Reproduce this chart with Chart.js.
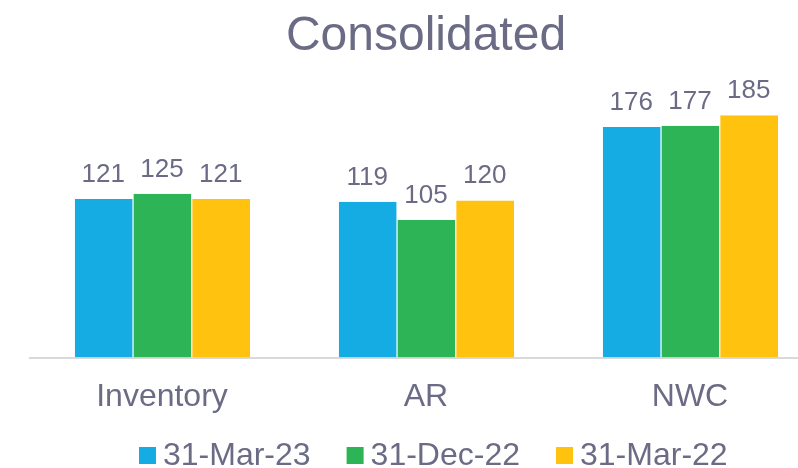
<!DOCTYPE html>
<html lang="en">
<head>
    <meta charset="UTF-8">
    <script src="https://cdn.jsdelivr.net/npm/chart.js"></script>
    <title>Consolidated</title>
    <style>
        html, body { margin: 0; padding: 0; background: #fff; overflow: hidden; }
        #wrap { position: relative; width: 852px; height: 468px; }
    </style>
</head>
<body>
    <div id="wrap"><canvas id="myChart"></canvas></div>
    <script>
        // chart data
        const categories = ['Inventory', 'AR', 'NWC'];
        const seriesNames = ['31-Mar-23', '31-Dec-22', '31-Mar-22'];
        const mar23 = [121, 119, 176];
        const dec22 = [125, 105, 177];
        const mar22 = [121, 120, 185];

        const colors = ['#14ACE3', '#2DB456', '#FFC20E'];
        const textColor = '#6B6B86';
        const fontFamily = "'Liberation Sans', Arial, sans-serif";

        // values written above each bar
        const barLabels = {
            id: 'barLabels',
            afterDatasetsDraw(chart) {
                const c = chart.ctx;
                c.save();
                c.font = '26px ' + fontFamily;
                c.fillStyle = textColor;
                c.textAlign = 'center';
                c.textBaseline = 'alphabetic';
                chart.data.datasets.forEach((ds, i) => {
                    chart.getDatasetMeta(i).data.forEach((bar, j) => {
                        c.fillText(ds.data[j], bar.x, bar.y - 17);
                    });
                });
                c.restore();
            }
        };

        // legend along the bottom, small squares close to the text
        const bottomLegend = {
            id: 'bottomLegend',
            afterDraw(chart) {
                const c = chart.ctx;
                c.save();
                c.font = '32px ' + fontFamily;
                c.textBaseline = 'alphabetic';
                c.textAlign = 'left';
                let x = 139;
                chart.data.datasets.forEach((ds) => {
                    c.fillStyle = ds.backgroundColor;
                    c.fillRect(x, 447, 17, 17);
                    x += 17 + 7;
                    c.fillStyle = textColor;
                    c.fillText(ds.label, x, 465);
                    x += c.measureText(ds.label).width + 36;
                });
                c.restore();
            }
        };

        const ctx = document.getElementById('myChart').getContext('2d');
        const chart = new Chart(ctx, {
            type: 'bar',
            data: {
                labels: categories,
                datasets: [
                    { label: seriesNames[0], data: mar23, backgroundColor: colors[0] },
                    { label: seriesNames[1], data: dec22, backgroundColor: colors[1] },
                    { label: seriesNames[2], data: mar22, backgroundColor: colors[2] }
                ]
            },
            options: {
                responsive: true,
                maintainAspectRatio: false,
                animation: false,
                layout: { padding: { left: 30, right: 30, top: 0, bottom: 32 } },
                datasets: {
                    bar: {
                        categoryPercentage: 0.667,
                        barPercentage: 1,
                        borderWidth: { left: 1, right: 0, top: 0, bottom: 0 },
                        borderColor: '#ffffff',
                        borderSkipped: false
                    }
                },
                plugins: {
                    legend: { display: false },
                    tooltip: { enabled: false },
                    title: {
                        display: true,
                        text: 'Consolidated',
                        color: textColor,
                        font: { family: fontFamily, size: 48, weight: 'normal', lineHeight: 1.2 },
                        padding: { top: 8, bottom: 30 }
                    }
                },
                scales: {
                    x: {
                        grid: { display: false, drawTicks: false },
                        border: { display: true, color: '#D9D9D9', width: 2 },
                        ticks: {
                            color: textColor,
                            padding: 20,
                            font: { family: fontFamily, size: 32 }
                        }
                    },
                    y: {
                        display: false,
                        min: 0,
                        max: 200
                    }
                }
            },
            plugins: [barLabels, bottomLegend]
        });
    </script>
</body>
</html>
